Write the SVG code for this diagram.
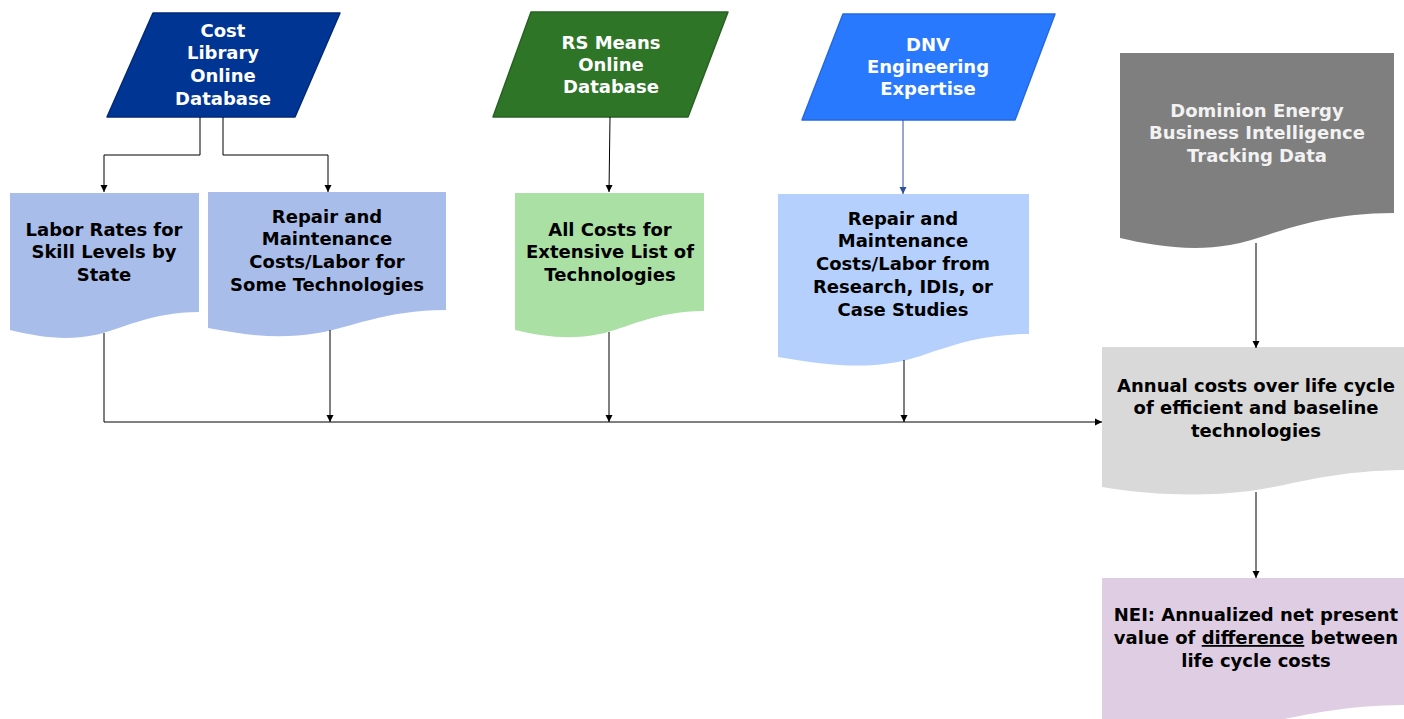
<svg xmlns="http://www.w3.org/2000/svg" width="1404" height="719" viewBox="0 0 1404 719">
<style>
text{font-family:"DejaVu Sans","Verdana",sans-serif;font-weight:bold;font-size:18px;text-anchor:middle}
.w{fill:#ffffff}
.k{fill:#000000}
.ln{fill:none;stroke:#000;stroke-width:1}
.lb{fill:none;stroke:#2f4f9f;stroke-width:1}
</style>
<defs>
<marker id="ah" markerWidth="8" markerHeight="8" refX="7" refY="4" orient="auto" markerUnits="userSpaceOnUse">
<path d="M0,0.5 L7,4 L0,7.5 Z" fill="#000"/>
</marker>
<marker id="ahb" markerWidth="8" markerHeight="8" refX="7" refY="4" orient="auto" markerUnits="userSpaceOnUse">
<path d="M0,0.5 L7,4 L0,7.5 Z" fill="#2f4f9f"/>
</marker>
</defs>
<rect width="1404" height="719" fill="#fff"/>

<g id="cost-library">
<path d="M153,13 L340,13 L295,117 L107,117 Z" fill="#003594" stroke="#002a78" stroke-width="1.5" stroke-linejoin="round"/>
<text class="w" x="223" y="37">Cost</text>
<text class="w" x="223" y="59">Library</text>
<text class="w" x="223" y="82">Online</text>
<text class="w" x="223" y="105">Database</text>
</g>

<g id="rs-means">
<path d="M531,12 L728,12 L688,117 L493,117 Z" fill="#2e7528" stroke="#266322" stroke-width="1.5" stroke-linejoin="round"/>
<text class="w" x="611" y="49">RS Means</text>
<text class="w" x="611" y="71">Online</text>
<text class="w" x="611" y="93">Database</text>
</g>

<g id="dnv-expertise">
<path d="M843,14 L1055,14 L1015,120 L802,120 Z" fill="#2979ff" stroke="#2469e0" stroke-width="1.5" stroke-linejoin="round"/>
<text class="w" x="928" y="51">DNV</text>
<text class="w" x="928" y="73">Engineering</text>
<text class="w" x="928" y="95">Expertise</text>
</g>

<g id="dominion-data">
<path d="M1120,53 L1394,53 L1394,213 C1310,213 1270,238 1230,245 C1190,252 1150,245 1120,238 Z" fill="#7f7f7f"/>
<text style="fill:#f2f2f2" x="1257" y="117">Dominion Energy</text>
<text style="fill:#f2f2f2" x="1257" y="139">Business Intelligence</text>
<text style="fill:#f2f2f2" x="1257" y="162">Tracking Data</text>
</g>

<g id="labor-rates">
<path d="M10,193 L199,193 L199,312 C150,312 120,330 95,335 C65,341 40,337 10,330 Z" fill="#a9bdeb"/>
<text class="k" x="104" y="236">Labor Rates for</text>
<text class="k" x="104" y="258">Skill Levels by</text>
<text class="k" x="104" y="281">State</text>
</g>

<g id="repair-some">
<path d="M208,192 L446,192 L446,310 C385,310 350,328 318,333 C280,339 250,336 208,328 Z" fill="#a9bdeb"/>
<text class="k" x="327" y="223">Repair and</text>
<text class="k" x="327" y="245">Maintenance</text>
<text class="k" x="327" y="268">Costs/Labor for</text>
<text class="k" x="327" y="291">Some Technologies</text>
</g>

<g id="all-costs">
<path d="M515,193 L704,193 L704,311 C655,311 625,329 600,334 C570,340 545,337 515,330 Z" fill="#abe0a5"/>
<text class="k" x="610" y="236">All Costs for</text>
<text class="k" x="610" y="258">Extensive List of</text>
<text class="k" x="610" y="281">Technologies</text>
</g>

<g id="repair-research">
<path d="M778,194 L1029,194 L1029,334 C965,334 930,356 898,362 C860,369 825,365 778,357 Z" fill="#b5d0fc"/>
<text class="k" x="903" y="225">Repair and</text>
<text class="k" x="903" y="247">Maintenance</text>
<text class="k" x="903" y="270">Costs/Labor from</text>
<text class="k" x="903" y="293">Research, IDIs, or</text>
<text class="k" x="903" y="316">Case Studies</text>
</g>

<g id="annual-costs">
<path d="M1102,347 L1410,347 L1410,470 C1330,470 1290,486 1250,491 C1200,497 1150,495 1102,487 Z" fill="#d9d9d9"/>
<text class="k" x="1256" y="392">Annual costs over life cycle</text>
<text class="k" x="1256" y="414">of efficient and baseline</text>
<text class="k" x="1256" y="437">technologies</text>
</g>

<g id="nei">
<path d="M1102,578 L1410,578 L1410,705 C1330,705 1290,720 1250,725 C1200,731 1150,729 1102,721 Z" fill="#dfcde3"/>
<text class="k" x="1256" y="621">NEI: Annualized net present</text>
<text class="k" x="1256" y="644">value of <tspan text-decoration="underline">difference</tspan> between</text>
<text class="k" x="1256" y="667">life cycle costs</text>
</g>

<g id="connectors">
<path class="ln" d="M200,117 V155 H104 V192" marker-end="url(#ah)"/>
<path class="ln" d="M223,117 V155 H328 V192" marker-end="url(#ah)"/>
<path class="ln" d="M610,117 L609,192" marker-end="url(#ah)"/>
<path class="lb" d="M903,120 V194" marker-end="url(#ahb)"/>
<path class="ln" d="M104,333 V422 H1102" marker-end="url(#ah)"/>
<path class="ln" d="M330,330 V422" marker-end="url(#ah)"/>
<path class="ln" d="M609,332 V422" marker-end="url(#ah)"/>
<path class="ln" d="M904,360 V422" marker-end="url(#ah)"/>
<path class="ln" d="M1256,243 V348" marker-end="url(#ah)"/>
<path class="ln" d="M1256,492 V578" marker-end="url(#ah)"/>
</g>
</svg>
